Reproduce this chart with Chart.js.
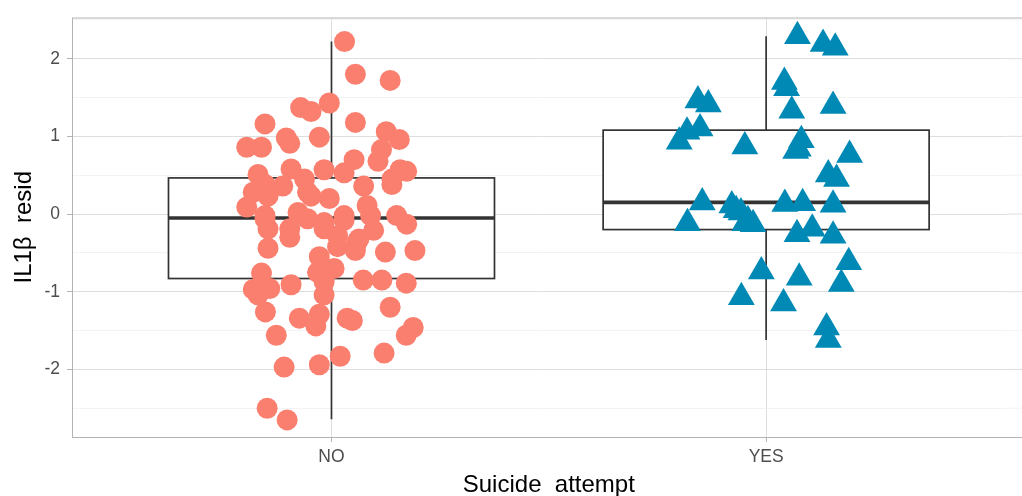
<!DOCTYPE html>
<html>
<head>
<meta charset="utf-8">
<script src="https://cdn.jsdelivr.net/npm/chart.js@4/dist/chart.umd.min.js"></script>
<style>
  html, body { margin: 0; padding: 0; background: #ffffff; }
  #c { display: block; }
</style>
</head>
<body>
<canvas id="c" width="1022" height="496"></canvas>
<script>
// ---- data ----
const categories = ['NO', 'YES'];

// NO group: horizontal jitter (category units) and IL1β residuals
const noJitter = [0.030, 0.055, 0.135, -0.005, -0.071, -0.047, -0.153, 0.055, 0.126, 0.156,
  -0.104, -0.096, -0.028, -0.195, -0.161, 0.115, 0.107, 0.052, 0.029, -0.017,
  -0.093, -0.169, 0.158, 0.173, 0.139, 0.074, -0.062, -0.112, -0.153, -0.146,
  -0.180, -0.195, -0.005, -0.055, -0.047, -0.077, -0.055, -0.153, -0.146, 0.029,
  0.082, 0.090, 0.150, 0.173, -0.096, -0.017, 0.014, 0.059, 0.097, 0.124,
  0.192, -0.146, -0.028, 0.014, 0.055, 0.063, 0.029, -0.161, -0.017, 0.006,
  -0.017, -0.172, -0.142, -0.169, -0.093, -0.017, 0.073, 0.116, 0.172, -0.152,
  -0.074, -0.028, -0.036, 0.036, 0.048, 0.135, 0.172, 0.188, -0.127, 0.121,
  0.020, -0.028, -0.109, -0.148, -0.102, -0.017, -0.096, -0.032, -0.153, -0.180,
  0.139];
const noValues = [2.22, 1.80, 1.72, 1.43, 1.37, 1.32, 1.16, 1.18, 1.06, 0.96,
  0.98, 0.91, 0.99, 0.86, 0.86, 0.83, 0.68, 0.70, 0.53, 0.57,
  0.58, 0.51, 0.57, 0.55, 0.38, 0.36, 0.45, 0.36, 0.38, 0.23,
  0.28, 0.09, 0.20, 0.28, 0.23, 0.02, -0.06, -0.02, -0.19, -0.02,
  0.11, -0.02, -0.02, -0.13, -0.30, -0.19, -0.28, -0.36, -0.21, -0.49,
  -0.47, -0.44, -0.55, -0.42, -0.47, -0.32, -0.08, -0.76, -0.72, -0.70,
  -0.87, -0.96, -0.96, -1.04, -0.91, -1.04, -0.85, -0.85, -0.89, -1.26,
  -1.34, -1.29, -1.44, -1.34, -1.37, -1.20, -1.56, -1.46, -1.56, -1.79,
  -1.83, -1.94, -1.97, -2.50, -2.65, -0.11, -0.19, -0.75, -0.06, -0.97,
  0.45];

// YES group
const yesJitter = [0.072, 0.131, 0.159, 0.042, 0.047, 0.059, 0.154, -0.157, -0.133, -0.182,
  -0.152, -0.200, -0.049, 0.081, 0.074, 0.068, 0.192, 0.143, 0.162, -0.147,
  -0.079, -0.058, -0.042, -0.030, -0.181, 0.043, 0.084, 0.154, 0.071, 0.106,
  0.154, 0.190, 0.173, -0.011, 0.076, -0.057, 0.040, 0.139, 0.143, -0.069,
  -0.049];
const yesValues = [2.29, 2.19, 2.14, 1.70, 1.62, 1.33, 1.39, 1.46, 1.41, 1.06,
  1.10, 0.93, 0.87, 0.95, 0.84, 0.81, 0.76, 0.51, 0.45, 0.15,
  0.11, 0.02, -0.08, -0.13, -0.12, 0.13, 0.14, 0.12, -0.26, -0.19,
  -0.28, -0.62, -0.90, -0.74, -0.82, -1.07, -1.15, -1.46, -1.62, 0.05,
  -0.12];

// box plot statistics per category
const boxLowerWhisker = [-2.64, -1.62];
const boxQ1 = [-0.83, -0.20];
const boxMedian = [-0.05, 0.15];
const boxQ3 = [0.465, 1.08];
const boxUpperWhisker = [2.22, 2.29];

const yTickValues = [-2, -1, 0, 1, 2];
const xTitle = 'Suicide  attempt';
const yTitle = 'IL1β  resid';

// ---- build datasets ----
const noPoints = noValues.map((v, i) => ({ x: 1 + noJitter[i], y: v }));
const yesPoints = yesValues.map((v, i) => ({ x: 2 + yesJitter[i], y: v }));

const FONT = '"Liberation Sans", Arial, Helvetica, sans-serif';
const isInt = v => Math.abs(v - Math.round(v)) < 1e-9;

const boxPlugin = {
  id: 'boxes',
  beforeDatasetsDraw(chart) {
    const { ctx, chartArea: a, scales: { x, y } } = chart;
    const halfW = 0.375;
    ctx.save();
    // continue the horizontal grid lines to the right edge of the canvas
    y.ticks.forEach(t => {
      const py = y.getPixelForValue(t.value);
      ctx.strokeStyle = isInt(t.value) ? '#DEDEDE' : '#EEEEEE';
      ctx.lineWidth = isInt(t.value) ? 1 : 0.7;
      ctx.beginPath();
      ctx.moveTo(a.right, py); ctx.lineTo(chart.width, py);
      ctx.stroke();
    });
    categories.forEach((c, i) => {
      const cx = x.getPixelForValue(i + 1);
      const l = x.getPixelForValue(i + 1 - halfW);
      const r = x.getPixelForValue(i + 1 + halfW);
      const yq1 = y.getPixelForValue(boxQ1[i]);
      const yq3 = y.getPixelForValue(boxQ3[i]);
      const ymed = y.getPixelForValue(boxMedian[i]);
      const ylo = y.getPixelForValue(boxLowerWhisker[i]);
      const yhi = y.getPixelForValue(boxUpperWhisker[i]);
      ctx.strokeStyle = '#333333';
      ctx.lineWidth = 1.7;
      // whiskers
      ctx.beginPath();
      ctx.moveTo(cx, yq3); ctx.lineTo(cx, yhi);
      ctx.moveTo(cx, yq1); ctx.lineTo(cx, ylo);
      ctx.stroke();
      // box
      ctx.fillStyle = '#ffffff';
      ctx.fillRect(l, yq3, r - l, yq1 - yq3);
      ctx.strokeRect(l, yq3, r - l, yq1 - yq3);
      // median
      ctx.lineWidth = 3.6;
      ctx.beginPath();
      ctx.moveTo(l, ymed); ctx.lineTo(r, ymed);
      ctx.stroke();
    });
    ctx.restore();
  },
  afterDraw(chart) {
    const { ctx, chartArea: a, scales: { x } } = chart;
    ctx.save();
    // panel border
    ctx.strokeStyle = '#B3B3B3';
    ctx.lineWidth = 1;
    ctx.strokeRect(a.left + 0.5, a.top + 0.5, a.right - a.left + 20, a.bottom - a.top);
    // axis titles
    ctx.fillStyle = '#000000';
    ctx.font = '24px ' + FONT;
    ctx.textAlign = 'center';
    ctx.textBaseline = 'alphabetic';
    ctx.fillText(xTitle, x.getPixelForValue(1.5), 492);
    ctx.translate(31, (a.top + a.bottom) / 2);
    ctx.rotate(-Math.PI / 2);
    ctx.fillText(yTitle, 0, 0);
    ctx.restore();
  }
};

new Chart(document.getElementById('c'), {
  type: 'scatter',
  data: {
    datasets: [
      {
        label: categories[0],
        data: noPoints,
        pointStyle: 'circle',
        pointRadius: 10.5,
        pointHoverRadius: 10.5,
        backgroundColor: '#FA7F6F',
        borderColor: '#FA7F6F',
        borderWidth: 0
      },
      {
        label: categories[1],
        data: yesPoints,
        pointStyle: 'triangle',
        pointRadius: 15.5,
        pointHoverRadius: 15.5,
        backgroundColor: '#0089B5',
        borderColor: '#0089B5',
        borderWidth: 0
      }
    ]
  },
  plugins: [boxPlugin],
  options: {
    responsive: false,
    animation: false,
    devicePixelRatio: 1,
    layout: { padding: { top: 13, left: 0, right: 0, bottom: 0 } },
    plugins: { legend: { display: false }, tooltip: { enabled: false } },
    scales: {
      x: {
        type: 'linear',
        min: 0.403,
        max: 2.553,
        afterFit(s) { s.height = 59; },
        afterBuildTicks(s) { s.ticks = [{ value: 1 }, { value: 2 }]; },
        ticks: {
          callback: v => categories[Math.round(v) - 1],
          font: { family: FONT, size: 17.5 },
          color: '#4D4D4D',
          padding: 5,
          maxRotation: 0,
          autoSkip: false
        },
        grid: { color: '#DEDEDE', lineWidth: 1, tickLength: 5, tickColor: '#B3B3B3' },
        border: { display: false }
      },
      y: {
        type: 'linear',
        min: -2.87,
        max: 2.53,
        afterFit(s) { s.width = 72; },
        ticks: {
          stepSize: 0.5,
          includeBounds: false,
          autoSkip: false,
          callback: v => (isInt(v) && yTickValues.includes(Math.round(v))) ? String(Math.round(v)) : '',
          font: { family: FONT, size: 17.5 },
          color: '#4D4D4D',
          padding: 7
        },
        grid: {
          color: c => isInt(c.tick.value) ? '#DEDEDE' : '#EEEEEE',
          lineWidth: c => isInt(c.tick.value) ? 1 : 0.7,
          tickLength: 5,
          tickColor: c => isInt(c.tick.value) ? '#B3B3B3' : 'rgba(0,0,0,0)'
        },
        border: { display: false }
      }
    }
  }
});
</script>
</body>
</html>
